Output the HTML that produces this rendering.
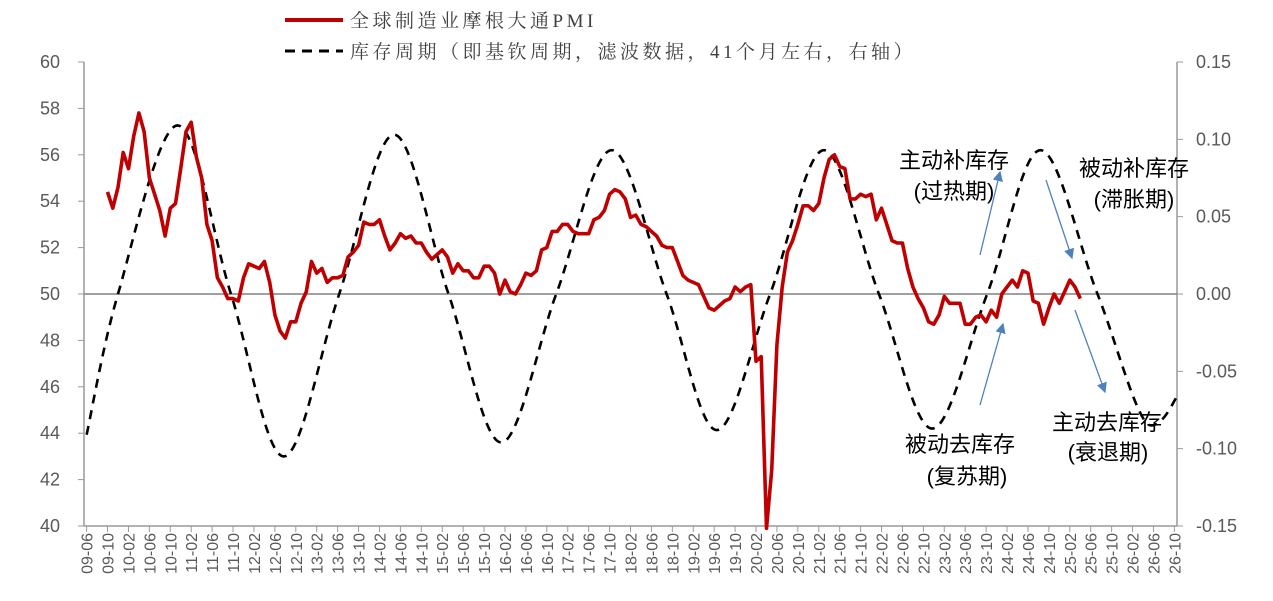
<!DOCTYPE html>
<html><head><meta charset="utf-8"><style>
html,body{margin:0;padding:0;background:#fff;}
svg{display:block;}
.tk{font-family:"Liberation Sans","Noto Sans CJK SC",sans-serif;font-size:18px;fill:#595959;}
.xl{font-family:"Liberation Sans",sans-serif;font-size:16px;fill:#595959;}
.lg{font-family:"Liberation Serif","Noto Serif CJK SC",serif;font-size:19px;fill:#404040;letter-spacing:3.5px;}
.an{font-family:"Liberation Sans","Noto Sans CJK SC",sans-serif;font-size:22px;fill:#000;}
</style></head><body>
<svg id="chart" width="1273" height="601" viewBox="0 0 1273 601">
<g id="axes"></g>
<g id="series"></g>
<g>
 <line x1="285" y1="20" x2="343" y2="20" stroke="#C00000" stroke-width="4"/>
 <text class="lg" x="350" y="27">全球制造业摩根大通PMI</text>
 <line x1="285" y1="51" x2="343" y2="51" stroke="#000" stroke-width="3" stroke-dasharray="10,7"/>
 <text class="lg" x="350" y="58">库存周期（即基钦周期，滤波数据，41个月左右，右轴）</text>
</g>
<g>
 <defs><marker id="ah" markerWidth="8" markerHeight="8" refX="7" refY="4" orient="auto"><path d="M0,0 L8,4 L0,8 z" fill="#4F81BD"/></marker></defs>
 <line x1="980" y1="255" x2="1000" y2="172" stroke="#4F81BD" stroke-width="1.3" marker-end="url(#ah)"/>
 <line x1="1046" y1="180" x2="1072" y2="258" stroke="#4F81BD" stroke-width="1.3" marker-end="url(#ah)"/>
 <line x1="980" y1="405" x2="1003" y2="324" stroke="#4F81BD" stroke-width="1.3" marker-end="url(#ah)"/>
 <line x1="1075" y1="310" x2="1105" y2="392" stroke="#4F81BD" stroke-width="1.3" marker-end="url(#ah)"/>
 <text class="an" x="954" y="168" text-anchor="middle">主动补库存</text>
 <text class="an" x="954" y="199" text-anchor="middle">(过热期)</text>
 <text class="an" x="1134" y="176" text-anchor="middle">被动补库存</text>
 <text class="an" x="1134" y="207" text-anchor="middle">(滞胀期)</text>
 <text class="an" x="960" y="452" text-anchor="middle">被动去库存</text>
 <text class="an" x="967" y="484" text-anchor="middle">(复苏期)</text>
 <text class="an" x="1107" y="430" text-anchor="middle">主动去库存</text>
 <text class="an" x="1108" y="460" text-anchor="middle">(衰退期)</text>
</g>
</svg>
<script>
// PMI monthly, starting 2009-10 (month index 4 from 2009-06)
const pmiStart = 4;
const pmiValues = [54.4,53.7,54.6,56.1,55.4,56.8,57.8,57.0,55.0,54.3,53.6,52.5,53.7,53.9,55.4,57.0,57.4,55.9,55.0,53.0,52.3,50.7,50.3,49.8,49.8,49.7,50.7,51.3,51.2,51.1,51.4,50.5,49.1,48.4,48.1,48.8,48.8,49.6,50.1,51.4,50.9,51.1,50.5,50.7,50.7,50.8,51.6,51.8,52.1,53.1,53.0,53.0,53.2,52.5,51.9,52.2,52.6,52.4,52.5,52.2,52.2,51.8,51.5,51.7,51.9,51.6,50.9,51.3,51.0,51.0,50.7,50.7,51.2,51.2,50.9,50.0,50.6,50.1,50.0,50.4,50.9,50.8,51.0,51.9,52.0,52.7,52.7,53.0,53.0,52.7,52.6,52.6,52.6,53.2,53.3,53.6,54.3,54.5,54.4,54.1,53.3,53.4,53.0,52.9,52.7,52.5,52.1,52.0,52.0,51.4,50.8,50.6,50.5,50.4,49.9,49.4,49.3,49.5,49.7,49.8,50.3,50.1,50.3,50.4,47.1,47.3,39.9,42.4,47.8,50.3,51.8,52.3,53.0,53.8,53.8,53.6,53.9,55.0,55.8,56.0,55.5,55.4,54.1,54.1,54.3,54.2,54.3,53.2,53.7,53.0,52.3,52.2,52.2,51.1,50.3,49.8,49.4,48.8,48.7,49.1,49.9,49.6,49.6,49.6,48.7,48.7,49.0,49.1,48.8,49.3,49.0,50.0,50.3,50.6,50.3,51.0,50.9,49.7,49.6,48.7,49.4,50.0,49.6,50.1,50.6,50.3,49.8];
// Inventory cycle turning points (month index from 2009-06, value on right axis)
const cycleMonths = [0,6,17.4,27.6,37.7,48.3,58.8,69.2,79.3,89.8,100.4,110.9,120.5,130.7,141,151.5,161.7,172.2,182.4,193.3,203.5,208.6];
const cycleValues = [-0.091,0,0.109,0,-0.105,0,0.103,0,-0.096,0,0.093,0,-0.088,0,0.093,0,-0.087,0,0.093,0,-0.085,-0.066];
const leftTicks = [40,42,44,46,48,50,52,54,56,58,60];
const rightTicks = ["-0.15","-0.10","-0.05","0.00","0.05","0.10","0.15"];
const xLabelYears = ["09","10","11","12","13","14","15","16","17","18","19","20","21","22","23","24","25","26"];
const xLabelMonths = ["02","06","10"];

const NS="http://www.w3.org/2000/svg";
const X0=84, X1=1177, Y0=526, Y1=62, NM=209;
const mw=(X1-X0)/NM;
const xm=m=>X0+(m+0.5)*mw;
const yl=v=>Y0-(v-40)/20*(Y0-Y1);
const yr=v=>Y0-(v+0.15)/0.3*(Y0-Y1);
function mk(tag,attrs,parent){const e=document.createElementNS(NS,tag);for(const k in attrs)e.setAttribute(k,attrs[k]);parent.appendChild(e);return e;}
const axes=document.getElementById('axes'), ser=document.getElementById('series');

let e;
e=mk('line',{x1:X0,y1:Y1,x2:X0,y2:Y0,stroke:'#999','stroke-width':1.5},axes);


e=mk('line',{x1:X1,y1:Y1,x2:X1,y2:Y0,stroke:'#999','stroke-width':1.5},axes);


e=mk('line',{x1:X0,y1:Y0,x2:X1,y2:Y0,stroke:'#999','stroke-width':1.5},axes);


e=mk('line',{x1:X0,y1:yl(50),x2:X1,y2:yl(50),stroke:'#808080','stroke-width':1.5},axes);



leftTicks.forEach(v=>{
  mk('line',{x1:X0-6,y1:yl(v),x2:X0,y2:yl(v),stroke:'#999'},axes);
  const t=mk('text',{x:60,y:yl(v)+6,'text-anchor':'end',class:'tk'},axes);
  t.textContent=v;
  
  
});
rightTicks.forEach(s=>{
  const v=parseFloat(s);
  mk('line',{x1:X1,y1:yr(v),x2:X1+6,y2:yr(v),stroke:'#999'},axes);
  const t=mk('text',{x:1196,y:yr(v)+6,class:'tk'},axes);
  t.textContent=s;
  
  
});
const labs=["09-06","09-10"];
xLabelYears.slice(1).forEach(y=>xLabelMonths.forEach(mo=>labs.push(y+"-"+mo)));
labs.forEach((s,i)=>{
  const x=xm(i*4);
  mk('line',{x1:x,y1:Y0,x2:x,y2:Y0+6,stroke:'#999'},axes);
  const t=mk('text',{x:0,y:0,class:'xl','text-anchor':'end',transform:`translate(${x+6},${Y0+7}) rotate(-90)`},axes);
  t.textContent=s;
  
  
});

const P=cycleMonths.map((m,i)=>[xm(m),yr(cycleValues[i])]);
let d=`M${P[0][0]},${P[0][1]}`;
for(let i=0;i<P.length-1;i++){
  const p0=P[Math.max(i-1,0)],p1=P[i],p2=P[i+1],p3=P[Math.min(i+2,P.length-1)];
  const c1=[p1[0]+(p2[0]-p0[0])/6,p1[1]+(p2[1]-p0[1])/6];
  const c2=[p2[0]-(p3[0]-p1[0])/6,p2[1]-(p3[1]-p1[1])/6];
  if(cycleValues[i]!==0&&i>0)c1[1]=p1[1];
  if(cycleValues[i+1]!==0&&i+1<P.length-1)c2[1]=p2[1];
  d+=` C${c1[0]},${c1[1]} ${c2[0]},${c2[1]} ${p2[0]},${p2[1]}`;
}
e=mk('path',{d:d,fill:'none',stroke:'#000','stroke-width':2.6,'stroke-dasharray':'9,7'},ser);



const pts=pmiValues.map((v,i)=>`${xm(pmiStart+i).toFixed(1)},${yl(v).toFixed(1)}`).join(' ');
e=mk('polyline',{points:pts,fill:'none',stroke:'#C00000','stroke-width':3.6,'stroke-linejoin':'round'},ser);


</script>
</body></html>
